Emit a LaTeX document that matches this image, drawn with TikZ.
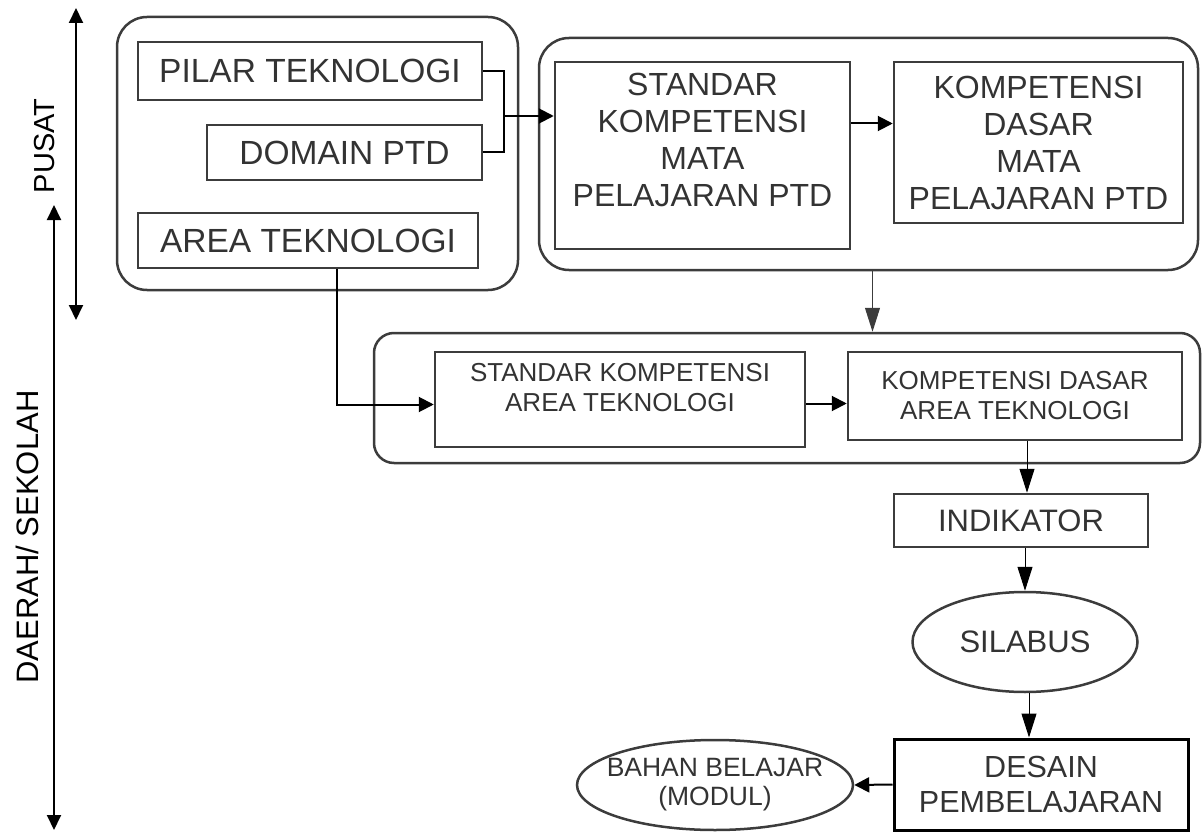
\documentclass[tikz,border=0pt]{standalone}
\usepackage{fontspec}
\setmainfont{Liberation Sans}
\usetikzlibrary{arrows.meta,shapes.geometric,positioning}

\definecolor{garis}{HTML}{3C3C3C}
\definecolor{teks}{HTML}{333333}

\tikzset{
    kotak/.style={draw=garis, line width=2.5pt, inner sep=0pt, align=center, text=teks},
    grup/.style={draw=garis, line width=2.5pt, inner sep=0pt, rounded corners=30pt},
    oval/.style={ellipse, draw=garis, line width=2.5pt, inner sep=0pt, align=center, text=teks},
    hurufkiri/.style={font={\fontsize{33.5}{38}\selectfont}},
    hurufbesar/.style={font={\fontsize{32}{37}\selectfont}},
    hurufsedang/.style={font={\fontsize{26}{30}\selectfont}},
    sambung/.style={line width=2pt},
    panah/.style={line width=2pt, -{Triangle[length=15pt,width=15pt]}},
    panahtipis/.style={line width=1pt, -{Triangle[length=24pt,width=15pt]}},
    panahdua/.style={line width=2pt, {Triangle[length=15pt,width=14pt]}-{Triangle[length=15pt,width=14pt]}},
}

\begin{document}
\begin{tikzpicture}[x=1pt, y=-1pt]
            \useasboundingbox (0,0) rectangle (1203,832);

            % sumbu kiri
            \coordinate (pusatatas) at (76,8);
            \coordinate (pusatbawah) at (76,320);
            \coordinate (daerahatas) at (54,205);
            \coordinate (daerahbawah) at (54,830);
            \draw[panahdua] (pusatatas) -- (pusatbawah);
            \draw[panahdua] (daerahatas) -- (daerahbawah);
            \node[rotate=90, font={\fontsize{29}{34}\selectfont}] (pusat) at (45,146) {PUSAT};
            \node[rotate=90, font={\fontsize{31}{36}\selectfont}] (daerah) at (27,537) {DAERAH/ SEKOLAH};

            % kelompok
            \node[grup, minimum width=401pt, minimum height=273pt] (kiri) at (317.5,153.5) {};
            \node[grup, minimum width=659pt, minimum height=232pt] (kanan) at (868.5,154) {};
            \node[grup, rounded corners=20pt, minimum width=826pt, minimum height=130pt] (tengah) at (787,398) {};

            % kotak
            \node[kotak, hurufkiri, minimum width=344pt, minimum height=58pt] (pilar) at (310,71) {PILAR TEKNOLOGI};
            \node[kotak, hurufkiri, minimum width=275pt, minimum height=55pt] (domain) at (344.5,152.5) {DOMAIN PTD};
            \node[kotak, hurufkiri, minimum width=340pt, minimum height=55pt] (area) at (308,240.5) {AREA TEKNOLOGI};
            \node[kotak, hurufbesar, text depth=32pt, minimum width=295pt, minimum height=187pt] (skmp) at (702.5,155.5)
                {STANDAR\\ KOMPETENSI\\ MATA\\ PELAJARAN PTD};
            \node[kotak, hurufbesar, minimum width=289pt, minimum height=161pt] (kdmp) at (1038.5,142.5)
                {KOMPETENSI\\ DASAR\\ MATA\\ PELAJARAN PTD};
            \node[kotak, hurufsedang, text depth=24pt, minimum width=370pt, minimum height=95pt] (skat) at (620,399.5)
                {STANDAR KOMPETENSI\\ AREA TEKNOLOGI};
            \node[kotak, hurufsedang, minimum width=334pt, minimum height=88pt] (kdat) at (1015,396)
                {KOMPETENSI DASAR\\ AREA TEKNOLOGI};
            \node[kotak, font={\fontsize{31}{36}\selectfont}, minimum width=254pt, minimum height=53pt] (indikator) at (1021,520.5) {INDIKATOR};
            \node[oval, font={\fontsize{31}{36}\selectfont}, minimum width=225pt, minimum height=100pt] (silabus) at (1025,642) {SILABUS};
            \node[kotak, draw=black, line width=3pt, font={\fontsize{30.5}{35}\selectfont}, minimum width=294pt, minimum height=91pt] (desain) at (1041,784.5)
                {DESAIN\\ PEMBELAJARAN};
            \node[oval, inner xsep=-14pt, font={\fontsize{26.5}{29}\selectfont}, minimum width=276pt, minimum height=90pt] (bahan) at (715,785)
                {BAHAN BELAJAR\\ (MODUL)};

            % penghubung
            \draw[sambung] (pilar.east) -| (504,116) |- (domain.east);
            \coordinate (gabung) at (504,116);
            \draw[panah] (gabung) -- (gabung -| skmp.west);
            \draw[panah] ([yshift=32pt]skmp.east) -- ([yshift=32pt]skmp.east -| kdmp.west);
            \draw[panahtipis, draw=garis] ([xshift=4pt]kanan.south) -- ([xshift=4pt]kanan.south |- tengah.north);
            \draw[panah] ([xshift=29pt]area.south) |- ([yshift=-5pt]skat.west);
            \draw[panah] ([yshift=-4pt]skat.east) -- ([yshift=-4pt]skat.east -| kdat.west);
            \draw[panahtipis] ([xshift=6pt]indikator.north |- kdat.south) -- ([xshift=6pt]indikator.north);
            \draw[panahtipis] (silabus.north |- indikator.south) -- (silabus.north);
            \draw[panahtipis] ([xshift=4pt]silabus.south) -- ([xshift=4pt]silabus.south |- desain.north);
            \draw[panah] (desain.west) -- (bahan.east);
        \end{tikzpicture}
\end{document}
